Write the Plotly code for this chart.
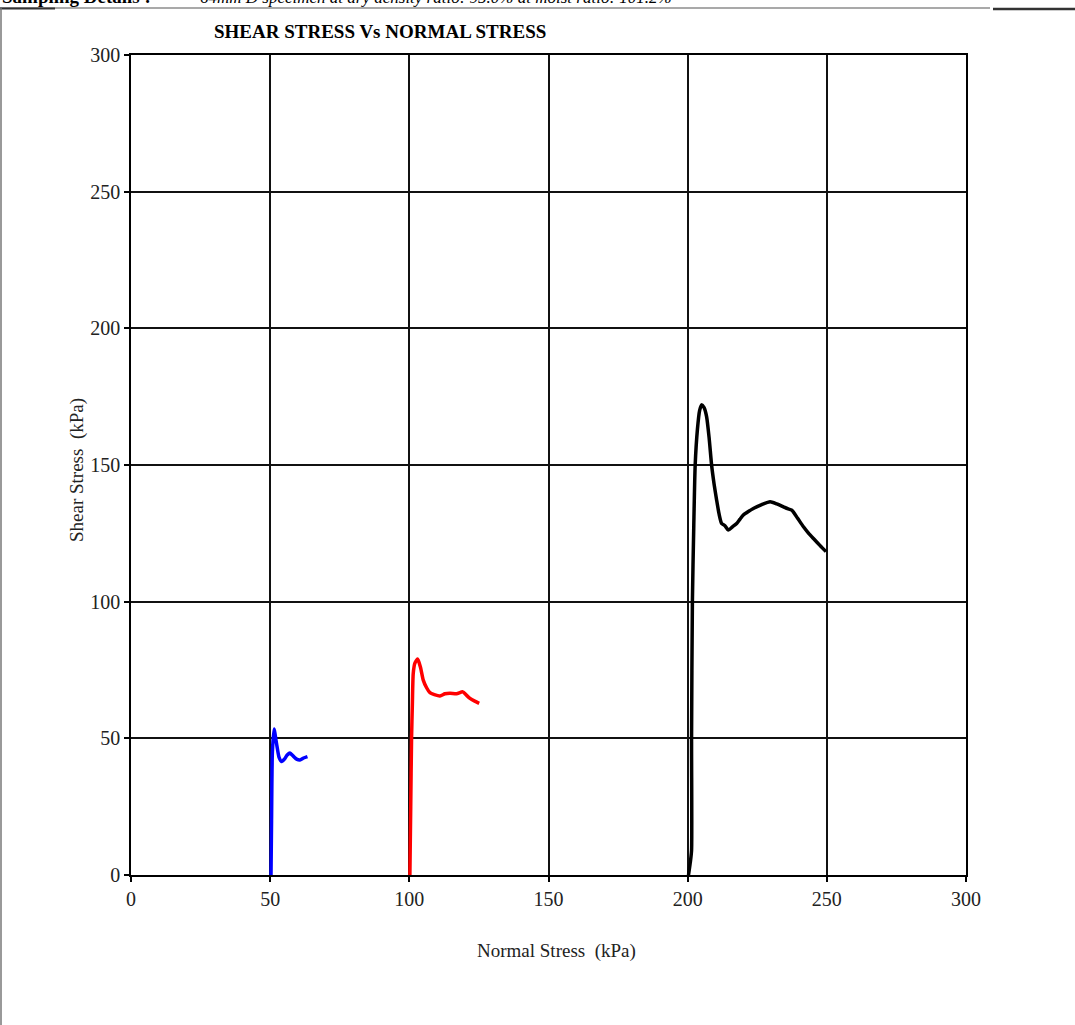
import plotly.graph_objects as go

# Blue series (normal stress 50 kPa)
blue_x = [50.3, 50.5, 50.8, 51.4, 52.3, 53.2, 54.1, 55.2, 56.2, 57.1, 58.3, 59.5, 60.7, 62.0, 63.4]
blue_y = [0.0, 20.0, 45.0, 53.4, 48.0, 43.0, 41.5, 42.5, 44.0, 44.6, 43.5, 42.4, 42.1, 42.8, 43.3]

# Red series (normal stress 100 kPa)
red_x = [100.2, 100.5, 100.8, 101.1, 101.4, 102.0, 103.0, 104.0, 105.0, 106.2, 107.4, 109.0, 111.0, 112.8, 114.6, 117.0, 119.2, 120.5, 121.8, 123.5, 125.1]
red_y = [0.0, 25.0, 50.0, 63.0, 73.7, 77.5, 79.0, 76.0, 71.3, 68.5, 66.7, 66.0, 65.5, 66.3, 66.5, 66.3, 67.0, 65.8, 64.6, 63.6, 62.8]

# Black series (normal stress 200 kPa)
black_x = [200.3, 201.0, 201.4, 201.4, 201.7, 202.2, 202.7, 203.5, 204.3, 205.0, 205.9, 206.8, 207.7, 208.6, 209.5, 210.4, 211.3, 212.2, 213.4, 214.6, 216.1, 217.6, 218.8, 220.0, 221.8, 223.6, 226.6, 229.6, 232.0, 234.4, 235.9, 237.4, 239.5, 241.6, 243.4, 245.2, 247.5, 249.7]
black_y = [0.0, 5.0, 9.0, 50.0, 100.0, 128.0, 150.0, 163.0, 170.0, 172.0, 171.0, 167.7, 160.0, 150.0, 143.0, 137.2, 132.0, 128.6, 127.8, 126.2, 127.4, 128.6, 130.2, 131.7, 133.0, 134.1, 135.5, 136.6, 135.8, 134.7, 134.0, 133.5, 130.5, 127.4, 125.1, 123.1, 120.6, 118.3]

x_ticks = [0, 50, 100, 150, 200, 250, 300]
y_ticks = [0, 50, 100, 150, 200, 250, 300]

title_text = "SHEAR STRESS Vs NORMAL STRESS"
x_title = "Normal Stress  (kPa)"
y_title = "Shear Stress  (kPa)"
header_label = "Sampling Details :"
header_text = "64mm D specimen at dry density ratio: 95.0% at moist ratio: 101.2%"

FONT = "Liberation Serif, Times New Roman, serif"

fig = go.Figure()
for xs, ys, col in [(blue_x, blue_y, "#0000ff"), (red_x, red_y, "#ff0000"), (black_x, black_y, "#000000")]:
    fig.add_trace(go.Scatter(x=xs, y=ys, mode="lines",
                             line=dict(color=col, width=3.5, shape="spline", smoothing=0.6),
                             showlegend=False, hoverinfo="x+y"))

L, R, T, B = 131, 109, 55, 150
W, H = 1075, 1025
pw, ph = W - L - R, H - T - B

def px(xp):
    return (xp - L) / pw

def py(yp):
    return (H - B - yp) / ph

axis_common = dict(
    range=[0, 300], showgrid=True, gridcolor="#111111", gridwidth=1.5,
    showline=True, linecolor="#000000", linewidth=1.5, mirror=True,
    ticks="outside", ticklen=5, tickcolor="#000000", tickwidth=1.5,
    zeroline=False, tickfont=dict(family=FONT, size=20, color="#222222"),
)

fig.update_layout(
    width=W, height=H,
    margin=dict(l=L, r=R, t=T, b=B),
    paper_bgcolor="white", plot_bgcolor="white",
    font=dict(family=FONT, color="#000000", size=19),
    showlegend=False,
    xaxis=dict(tickvals=x_ticks, ticktext=[str(v) for v in x_ticks], **axis_common),
    yaxis=dict(tickvals=y_ticks, ticktext=[str(v) for v in y_ticks], **axis_common),
)

annotations = [
    dict(text="<b>" + title_text + "</b>", x=px(380), y=py(32), xref="paper", yref="paper",
         xanchor="center", yanchor="middle", showarrow=False, font=dict(family=FONT, size=19)),
    dict(text=x_title, x=px(556), y=py(951), xref="paper", yref="paper",
         xanchor="center", yanchor="middle", showarrow=False, font=dict(family=FONT, size=19, color="#222222")),
    dict(text=y_title, x=px(77), y=py(470), xref="paper", yref="paper", textangle=-90,
         xanchor="center", yanchor="middle", showarrow=False, font=dict(family=FONT, size=19, color="#222222")),
    dict(text="<b>" + header_label + "</b>", x=px(0), y=py(9), xref="paper", yref="paper",
         xanchor="left", yanchor="bottom", showarrow=False, font=dict(family=FONT, size=19)),
    dict(text="<i>" + header_text + "</i>", x=px(198), y=py(9),
         xref="paper", yref="paper", xanchor="left", yanchor="bottom", showarrow=False,
         font=dict(family=FONT, size=17)),
]
fig.update_layout(annotations=annotations)

shapes = [
    dict(type="line", xref="paper", yref="paper", x0=px(0), x1=px(990), y0=py(8), y1=py(8),
         line=dict(color="#555555", width=1.2)),
    dict(type="line", xref="paper", yref="paper", x0=px(0), x1=px(55), y0=py(8.5), y1=py(8.5),
         line=dict(color="#333333", width=2)),
    dict(type="line", xref="paper", yref="paper", x0=px(993), x1=px(1075), y0=py(9), y1=py(9),
         line=dict(color="#333333", width=2.5)),
    dict(type="line", xref="paper", yref="paper", x0=px(1), x1=px(1), y0=py(8), y1=py(1025),
         line=dict(color="#777777", width=1.5)),
]
fig.update_layout(shapes=shapes)

fig.write_html("out.html", config={"displayModeBar": False},
               post_script="document.body.style.margin='0px';document.body.style.overflow='hidden';")
